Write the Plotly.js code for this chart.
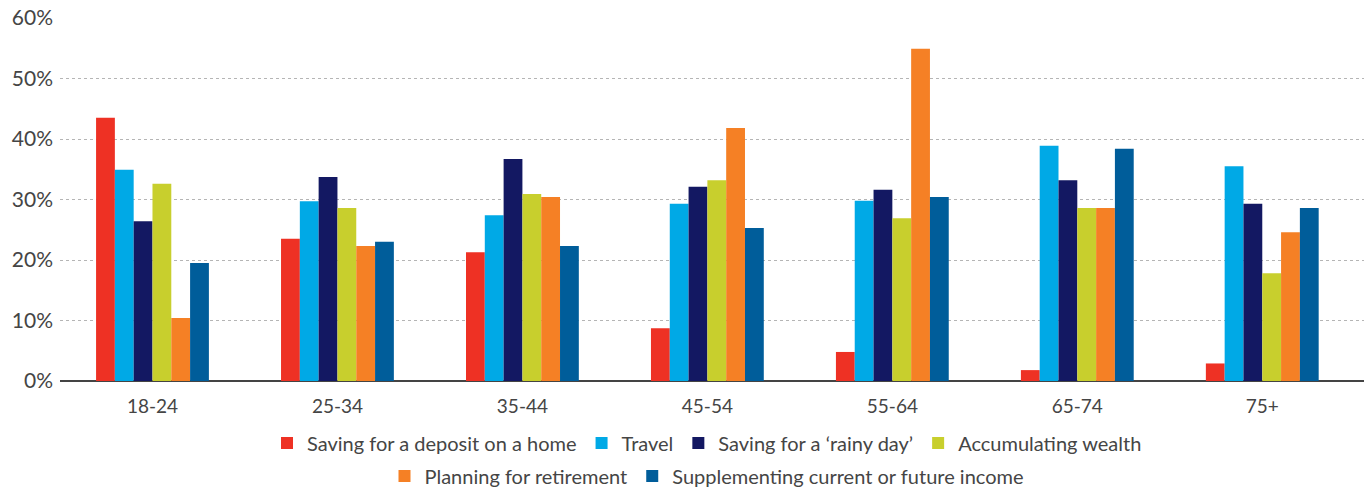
<!DOCTYPE html>
<html>
<head>
<meta charset="utf-8">
<script src="https://cdn.plot.ly/plotly-3.0.1.min.js"></script>
<style>
  html, body { margin: 0; padding: 0; background: #ffffff; }
  #chart { width: 1364px; height: 490px; }
</style>
</head>
<body>
<div id="chart"></div>
<script>
// Age groups along the x axis
const ageGroups = ['18-24', '25-34', '35-44', '45-54', '55-64', '65-74', '75+'];

// Share of respondents (%) citing each goal, per age group
const depositHome   = [43.5, 23.5, 21.3, 8.7, 4.8, 1.8, 2.9];
const travel        = [34.9, 29.7, 27.4, 29.3, 29.8, 38.9, 35.5];
const rainyDay      = [26.4, 33.7, 36.7, 32.1, 31.6, 33.2, 29.3];
const accumWealth   = [32.6, 28.6, 30.9, 33.2, 26.9, 28.6, 17.8];
const retirement    = [10.4, 22.3, 30.4, 41.8, 54.9, 28.6, 24.6];
const supplementInc = [19.5, 23.0, 22.3, 25.3, 30.4, 38.4, 28.6];

const yTicks = [0, 10, 20, 30, 40, 50, 60];
const yTickText = ['0%', '10%', '20%', '30%', '40%', '50%', '60%'];

const seriesDefs = [
  { name: 'Saving for a deposit on a home', values: depositHome, color: '#EE3124', legend: 'legend' },
  { name: 'Travel', values: travel, color: '#00A9E6', legend: 'legend' },
  { name: 'Saving for a \u2018rainy day\u2019', values: rainyDay, color: '#131862', legend: 'legend' },
  { name: 'Accumulating wealth', values: accumWealth, color: '#C8CF2D', legend: 'legend' },
  { name: 'Planning for retirement', values: retirement, color: '#F58025', legend: 'legend2' },
  { name: 'Supplementing current or future income', values: supplementInc, color: '#005D9A', legend: 'legend2' }
];

const traces = seriesDefs.map(s => ({
  type: 'bar',
  name: s.name,
  x: ageGroups,
  y: s.values,
  marker: { color: s.color, line: { width: 0 } },
  legend: s.legend,
  hovertemplate: '%{x}: %{y}%<extra>' + s.name + '</extra>'
}));

const fontFamily = 'Lato, "Open Sans", sans-serif';
const textColor = '#454545';

// Two centred legend rows below the plot
const legendStyle = {
  orientation: 'h',
  xanchor: 'center',
  x: 707 / 1364,
  xref: 'container',
  yref: 'container',
  yanchor: 'middle',
  font: { family: fontFamily, size: 20, color: textColor },
  itemwidth: 30,
  tracegroupgap: 0,
  bgcolor: 'rgba(0,0,0,0)'
};

const layout = {
  width: 1364,
  height: 490,
  margin: { l: 60, r: 0, t: 18, b: 109, pad: 0, autoexpand: false },
  paper_bgcolor: '#ffffff',
  plot_bgcolor: '#ffffff',
  font: { family: fontFamily, size: 18, color: textColor },
  barmode: 'group',
  bargap: 0.39,
  bargroupgap: 0,
  xaxis: {
    type: 'category',
    range: [-0.5, 6.55],
    showgrid: false,
    zeroline: false,
    showline: false,
    ticks: '',
    ticklabelstandoff: 12,
    automargin: false,
    tickfont: { family: fontFamily, size: 19, color: textColor },
    fixedrange: true
  },
  yaxis: {
    range: [0, 60],
    tickvals: yTicks,
    ticktext: yTickText,
    showgrid: true,
    gridcolor: '#b5b5b5',
    griddash: 'dot',
    gridwidth: 1,
    zeroline: true,
    zerolinecolor: '#444444',
    zerolinewidth: 2,
    showline: false,
    ticks: '',
    ticklabelstandoff: 6,
    automargin: false,
    tickfont: { family: fontFamily, size: 21, color: textColor },
    fixedrange: true
  },
  showlegend: true,
  legend: Object.assign({}, legendStyle, { y: 1 - 443 / 490 }),
  legend2: Object.assign({}, legendStyle, { y: 1 - 476 / 490 })
};

Plotly.newPlot('chart', traces, layout, { displayModeBar: false, staticPlot: true });
</script>
</body>
</html>
